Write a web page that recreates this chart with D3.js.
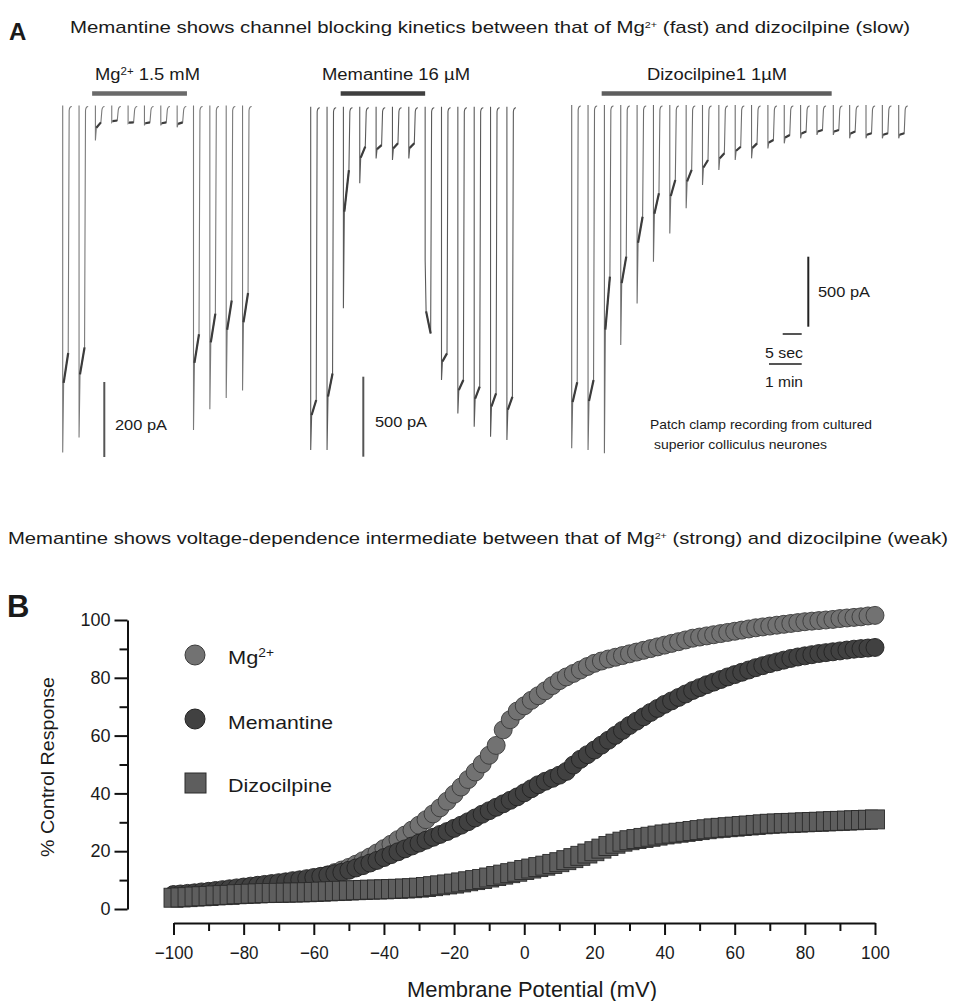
<!DOCTYPE html>
<html>
<head>
<meta charset="utf-8">
<script src="https://cdn.jsdelivr.net/npm/d3@7"></script>
<style>
    body { margin: 0; background: #fff; }
    svg { display: block; font-family: "Liberation Sans", Arial, sans-serif; }
</style>
</head>
<body>
<svg id="fig" width="953" height="1001"></svg>
<script>
(function () {
    'use strict';

    // ---- Panel A: one entry per NMDA application (time in s, peak and end-of-sweep current in pA)
    var mgTimes = [0, 30, 60, 90, 120, 150, 180, 210, 240, 270, 300, 330];
    var mgPeak = [925, 885, 93, 45, 48, 53, 53, 58, 865, 810, 780, 760];
    var mgSteady = [660, 645, 45, 40, 45, 45, 45, 45, 610, 555, 520, 500];
    var mgApplied = [54, 228];

    var memTimes = [0, 30, 60, 90, 120, 150, 180, 210, 240, 270, 300, 330, 360];
    var memPeak = [2146, 2146, 1260, 479, 323, 333, 323, 958, 1708, 1917, 2000, 2063, 2083];
    var memSteady = [1833, 1667, 396, 250, 240, 229, 229, 1417, 1542, 1708, 1750, 1792, 1813];
    var memApplied = [55, 210];

    var dizTimes = [0, 30, 60, 90, 120, 150, 180, 210, 240, 270, 300, 330, 360, 390, 420, 450, 480, 510, 540, 570, 600];
    var dizPeak = [2452, 2464, 2488, 1714, 1417, 1119, 917, 738, 571, 464, 393, 381, 310, 274, 238, 214, 214, 238, 238, 238, 238];
    var dizSteady = [1981, 1964, 1226, 1083, 798, 631, 536, 464, 393, 345, 298, 274, 250, 214, 190, 179, 179, 190, 202, 202, 202];
    var dizApplied = [55, 477];

    // ---- Panel B: % control response vs membrane potential
    var potentials = [-100, -98, -96, -94, -92, -90, -88, -86, -84, -82,
        -80, -78, -76, -74, -72, -70, -68, -66, -64, -62,
        -60, -58, -56, -54, -52, -50, -48, -46, -44, -42,
        -40, -38, -36, -34, -32, -30, -28, -26, -24, -22,
        -20, -18, -16, -14, -12, -10, -8, -6, -4, -2,
        0, 2, 4, 6, 8, 10, 12, 14, 16, 18,
        20, 22, 24, 26, 28, 30, 32, 34, 36, 38,
        40, 42, 44, 46, 48, 50, 52, 54, 56, 58,
        60, 62, 64, 66, 68, 70, 72, 74, 76, 78,
        80, 82, 84, 86, 88, 90, 92, 94, 96, 98, 100];
    var mgResponse = [4.8, 4.9, 5.0, 5.1, 5.3, 5.4, 5.6, 5.8, 6.0, 6.2,
        6.4, 6.7, 7.0, 7.3, 7.6, 8.0, 8.4, 8.8, 9.3, 9.8,
        10.4, 11.1, 11.8, 12.6, 13.5, 14.4, 15.5, 16.7, 18.0, 19.4,
        20.9, 22.4, 24.0, 25.6, 27.3, 29.0, 30.9, 32.9, 35.0, 37.3,
        39.7, 42.2, 44.8, 47.4, 50.2, 53.2, 56.6, 62.0, 65.5, 68.5,
        70.3, 72.2, 73.8, 75.5, 77.3, 79.0, 80.3, 81.5, 82.7, 83.9,
        85.0, 85.8, 86.5, 87.1, 87.7, 88.3, 88.9, 89.5, 90.1, 90.7,
        91.3, 91.9, 92.5, 93.1, 93.7, 94.1, 94.5, 94.9, 95.3, 95.7,
        96.1, 96.5, 96.9, 97.3, 97.6, 97.9, 98.2, 98.5, 98.8, 99.1,
        99.4, 99.6, 99.8, 100.0, 100.2, 100.5, 100.7, 100.9, 101.1, 101.4, 101.6];
    var memantineResponse = [5.0, 5.2, 5.4, 5.6, 5.9, 6.1, 6.4, 6.7, 7.0, 7.3,
        7.6, 7.9, 8.2, 8.5, 8.8, 9.1, 9.4, 9.8, 10.1, 10.5,
        10.9, 11.3, 11.7, 12.2, 12.7, 13.4, 14.2, 15.0, 15.9, 16.8,
        17.8, 18.8, 19.8, 20.8, 21.8, 22.8, 23.8, 24.8, 25.8, 26.8,
        27.9, 29.0, 30.2, 31.5, 32.8, 34.0, 35.2, 36.4, 37.6, 38.8,
        40.2, 41.6, 43.0, 44.2, 45.2, 46.3, 47.6, 49.8, 51.8, 53.4,
        55.0, 56.7, 58.4, 60.1, 61.8, 63.5, 65.0, 66.5, 68.0, 69.4,
        70.8, 72.0, 73.2, 74.4, 75.6, 76.6, 77.6, 78.5, 79.4, 80.3,
        81.1, 81.9, 82.7, 83.5, 84.2, 84.9, 85.5, 86.1, 86.7, 87.2,
        87.6, 88.0, 88.4, 88.7, 89.0, 89.3, 89.6, 89.9, 90.1, 90.3, 90.5];
    var dizocilpineResponse = [3.9, 4.0, 4.1, 4.3, 4.4, 4.5, 4.7, 4.8, 4.9, 5.1,
        5.2, 5.3, 5.4, 5.5, 5.55, 5.6, 5.65, 5.7, 5.75, 5.8,
        5.9, 6.0, 6.1, 6.2, 6.3, 6.4, 6.5, 6.6, 6.7, 6.75,
        6.8, 6.9, 7.0, 7.1, 7.2, 7.4, 7.6, 7.9, 8.2, 8.5,
        8.8, 9.2, 9.6, 10.0, 10.4, 10.9, 11.4, 11.9, 12.4, 12.9,
        13.5, 14.0, 14.5, 15.0, 15.6, 16.2, 16.9, 17.6, 18.4, 19.2,
        20.0, 20.9, 21.8, 22.6, 23.3, 23.8, 24.2, 24.6, 25.0, 25.4,
        25.8, 26.1, 26.4, 26.7, 27.0, 27.3, 27.6, 27.9, 28.1, 28.3,
        28.5, 28.7, 28.9, 29.1, 29.3, 29.5, 29.6, 29.7, 29.8, 29.9,
        30.0, 30.1, 30.2, 30.3, 30.4, 30.5, 30.6, 30.7, 30.8, 30.9, 31.0];

    var xMajor = [-100, -80, -60, -40, -20, 0, 20, 40, 60, 80, 100];
    var xMinor = [-90, -70, -50, -30, -10, 10, 30, 50, 70, 90];
    var yMajor = [0, 20, 40, 60, 80, 100];
    var yMinor = [10, 30, 50, 70, 90];

    var svg = d3.select('#fig');
    svg.append('rect').attr('width', 953).attr('height', 1001).attr('fill', '#fff');

    // parts: plain strings, or {text, sup: true, size} for superscripts
    function label(g, x, y, size, anchor, parts, len, weight) {
        var t = g.append('text')
            .attr('x', x).attr('y', y)
            .attr('font-size', size)
            .attr('text-anchor', anchor || 'start')
            .attr('fill', '#1a1a1a');
        if (weight) { t.attr('font-weight', weight); }
        if (len) { t.attr('textLength', len).attr('lengthAdjust', 'spacingAndGlyphs'); }
        parts.forEach(function (p) {
            var isSup = typeof p === 'object' && p.sup === true;
            var s = t.append('tspan').text(isSup ? p.text : p);
            if (isSup) {
                s.attr('baseline-shift', 'super').attr('font-size', p.size || size * 0.6);
            }
        });
        return t;
    }

    // ================= Panel A =================
    var a = svg.append('g');
    label(a, 9, 40, 24, 'start', ['A'], null, 'bold');
    label(a, 70, 33, 17, 'start', ['Memantine shows channel blocking kinetics between that of  Mg',
        {text: '2+', sup: true, size: 9}, ' (fast) and dizocilpine (slow)'], 840);

    var pxPerSec = 0.545;
    var fast = d3.scaleLinear().domain([0, 5]).range([0, 19]); // time within one sweep

    var groups = [
        {times: mgTimes, peak: mgPeak, steady: mgSteady, applied: mgApplied,
            x0: 62.7, base: 105.5, pxPerPa: 0.375, color: '#7a7a7a', barColor: '#6a6a6a',
            name: ['Mg', {text: '2+', sup: true, size: 10}, ' 1.5 mM'], nameX: 95, nameLen: 105,
            scale: 200, scaleX: 104.3, scaleBottom: 457, scaleLabelX: 115, scaleLabelY: 430, scaleColor: '#555'},
        {times: memTimes, peak: memPeak, steady: memSteady, applied: memApplied,
            x0: 310.7, base: 106.7, pxPerPa: 0.16, color: '#5a5a5a', barColor: '#3f3f3f',
            name: ['Memantine 16 µM'], nameX: 322, nameLen: 148,
            scale: 500, scaleX: 363.3, scaleBottom: 456.7, scaleLabelX: 375, scaleLabelY: 427, scaleColor: '#555'},
        {times: dizTimes, peak: dizPeak, steady: dizSteady, applied: dizApplied,
            x0: 571.7, base: 105, pxPerPa: 0.14, color: '#6e6e6e', barColor: '#5e5e5e',
            name: ['Dizocilpine1 1µM'], nameX: 647, nameLen: 140,
            scale: 500, scaleX: 808.3, scaleBottom: 326.7, scaleLabelX: 818, scaleLabelY: 297, scaleColor: '#222'}
    ];

    groups.forEach(function (grp) {
        var g = a.append('g');
        var tMax = d3.max(grp.times);
        var xs = d3.scaleLinear().domain([0, tMax]).range([grp.x0, grp.x0 + tMax * pxPerSec]);
        var ys = d3.scaleLinear().domain([0, 1000]).range([grp.base, grp.base + 1000 * grp.pxPerPa]);

        label(g, grp.nameX, 80, 16, 'start', grp.name, grp.nameLen);

        g.append('line')
            .attr('x1', xs(grp.applied[0])).attr('x2', xs(grp.applied[1]))
            .attr('y1', 93.5).attr('y2', 93.5)
            .attr('stroke', grp.barColor).attr('stroke-width', 4.5);

        grp.times.forEach(function (t, i) {
            var x0 = xs(t);
            var b = ys(0);
            var pk = grp.peak[i];
            var ss = grp.steady[i];
            var mid = ss + (pk - ss) * 0.3;
            var p = d3.path();
            p.moveTo(x0, b);
            p.lineTo(x0, ys(pk));
            p.lineTo(x0 + fast(0.25), ys(mid));
            p.lineTo(x0 + fast(1.45), ys(ss));
            p.lineTo(x0 + fast(1.7), b + 5);
            p.quadraticCurveTo(x0 + fast(1.8), b + 1, x0 + fast(2.4), b + 1);
            g.append('path').attr('d', p.toString())
                .attr('fill', 'none').attr('stroke', grp.color).attr('stroke-width', 1.1);

            var q = d3.path();
            q.moveTo(x0 + fast(0.25), ys(mid));
            q.lineTo(x0 + fast(1.45), ys(ss));
            g.append('path').attr('d', q.toString())
                .attr('fill', 'none').attr('stroke', '#3c3c3c').attr('stroke-width', 2.2);
        });

        var barLen = ys(grp.scale) - ys(0);
        g.append('line')
            .attr('x1', grp.scaleX).attr('x2', grp.scaleX)
            .attr('y1', grp.scaleBottom - barLen).attr('y2', grp.scaleBottom)
            .attr('stroke', grp.scaleColor).attr('stroke-width', 2);
        label(g, grp.scaleLabelX, grp.scaleLabelY, 15, 'start', [grp.scale + ' pA'], 52);

        grp.xs = xs;
    });

    // time bars (dizocilpine group)
    var dz = groups[2].xs;
    a.append('line').attr('x1', 801.7 - fast(5)).attr('x2', 801.7)
        .attr('y1', 334).attr('y2', 334).attr('stroke', '#555').attr('stroke-width', 2);
    label(a, 765, 358, 15, 'start', ['5 sec'], 38);
    a.append('line').attr('x1', 801.7 - (dz(60) - dz(0))).attr('x2', 801.7)
        .attr('y1', 364).attr('y2', 364).attr('stroke', '#555').attr('stroke-width', 2);
    label(a, 765, 387, 15, 'start', ['1 min'], 38);

    label(a, 650, 429, 13, 'start', ['Patch clamp recording from cultured'], 222);
    label(a, 654, 449, 13, 'start', ['superior colliculus neurones'], 173);

    // ================= Panel B =================
    var b = svg.append('g');
    label(b, 8, 544, 17, 'start', ['Memantine shows voltage-dependence intermediate between that of Mg',
        {text: '2+', sup: true, size: 9}, ' (strong) and dizocilpine (weak)'], 940);
    label(b, 7, 617, 31, 'start', ['B'], null, 'bold');

    var x = d3.scaleLinear().domain([-100, 100]).range([173.5, 875]);
    var y = d3.scaleLinear().domain([0, 100]).range([909, 620]);

    var xAxisY = 923;
    var xa = b.append('g').attr('transform', 'translate(0,' + xAxisY + ')')
        .call(d3.axisBottom(x).tickValues(xMajor).tickSize(12).tickSizeOuter(0).tickPadding(11)
            .tickFormat(d3.format('d')));
    b.append('g').attr('transform', 'translate(0,' + xAxisY + ')')
        .call(d3.axisBottom(x).tickValues(xMinor).tickSize(8).tickFormat(''))
        .select('.domain').remove();

    b.append('g').attr('transform', 'translate(127.5,0)')
        .call(d3.axisLeft(y).tickValues(yMajor).tickSize(13).tickSizeOuter(0).tickPadding(4));
    b.append('g').attr('transform', 'translate(127.5,0)')
        .call(d3.axisLeft(y).tickValues(yMinor).tickSize(8).tickFormat(''))
        .select('.domain').remove();

    b.selectAll('.domain').attr('stroke', '#111').attr('stroke-width', 2);
    b.selectAll('.tick line').attr('stroke', '#111').attr('stroke-width', 2);
    b.selectAll('.tick text').attr('font-size', 18).attr('fill', '#1a1a1a')
        .attr('font-family', '"Liberation Sans", Arial, sans-serif');
    xa.selectAll('.tick text').attr('textLength', function (d) { return String(d).length * 9.6; })
        .attr('lengthAdjust', 'spacingAndGlyphs');

    label(b, 532, 997, 22, 'middle', ['Membrane Potential (mV)'], 250);
    label(b, 0, 0, 19, 'middle', ['% Control Response'], 180)
        .attr('transform', 'translate(54,767) rotate(-90)');

    var pts = function (vals) {
        return potentials.map(function (v, i) { return {v: v, p: vals[i]}; });
    };

    b.append('g').selectAll('circle').data(pts(mgResponse)).enter().append('circle')
        .attr('cx', function (d) { return x(d.v); })
        .attr('cy', function (d) { return y(d.p); })
        .attr('r', 9)
        .attr('fill', '#727272').attr('stroke', '#3a3a3a').attr('stroke-width', 0.9);

    b.append('g').selectAll('circle').data(pts(memantineResponse)).enter().append('circle')
        .attr('cx', function (d) { return x(d.v); })
        .attr('cy', function (d) { return y(d.p); })
        .attr('r', 9)
        .attr('fill', '#414141').attr('stroke', '#222').attr('stroke-width', 0.9);

    b.append('g').selectAll('rect').data(pts(dizocilpineResponse)).enter().append('rect')
        .attr('x', function (d) { return x(d.v) - 9.5; })
        .attr('y', function (d) { return y(d.p) - 9.5; })
        .attr('width', 19).attr('height', 19)
        .attr('fill', '#5e5e5e').attr('stroke', '#2b2b2b').attr('stroke-width', 0.9);

    // legend
    var lg = b.append('g');
    lg.append('circle').attr('cx', 195).attr('cy', 655).attr('r', 10)
        .attr('fill', '#727272').attr('stroke', '#3a3a3a');
    label(lg, 228, 664, 19, 'start', ['Mg', {text: '2+', sup: true, size: 12}], 46);
    lg.append('circle').attr('cx', 195).attr('cy', 719).attr('r', 10)
        .attr('fill', '#414141').attr('stroke', '#222');
    label(lg, 228, 729, 19, 'start', ['Memantine'], 105);
    lg.append('rect').attr('x', 185).attr('y', 773).attr('width', 21).attr('height', 20)
        .attr('fill', '#5e5e5e').attr('stroke', '#2b2b2b');
    label(lg, 228, 792, 19, 'start', ['Dizocilpine'], 104);
})();
</script>
</body>
</html>
